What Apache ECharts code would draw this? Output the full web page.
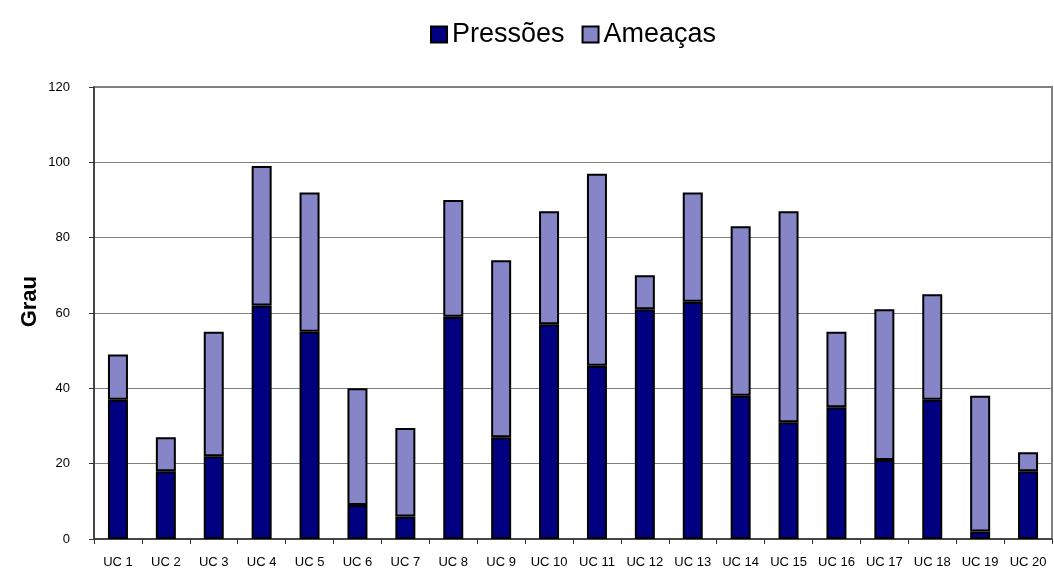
<!DOCTYPE html>
<html>
<head>
<meta charset="utf-8">
<script src="https://cdn.jsdelivr.net/npm/echarts@6/dist/echarts.min.js"></script>
<style>html,body{margin:0;padding:0;background:#fff;}#c{width:1054px;height:571px;}</style>
</head>
<body>
<div id="c"></div>
<script>
const categories = ['UC 1','UC 2','UC 3','UC 4','UC 5','UC 6','UC 7','UC 8','UC 9','UC 10','UC 11','UC 12','UC 13','UC 14','UC 15','UC 16','UC 17','UC 18','UC 19','UC 20'];
const pressoes = [37, 18, 22, 62, 55, 9, 6, 59, 27, 57, 46, 61, 63, 38, 31, 35, 21, 37, 2, 18];
const ameacas  = [12, 9, 33, 37, 37, 31, 23.5, 31, 47, 30, 51, 9, 29, 45, 56, 20, 40, 28, 36, 5];
const yTicks = [0, 20, 40, 60, 80, 100, 120];

const chart = echarts.init(document.getElementById('c'), null, {renderer: 'canvas'});
const font = 'Arial, "Liberation Sans", sans-serif';
chart.setOption({
  animation: false,
  backgroundColor: '#ffffff',
  legend: {
    top: 16,
    left: 425,
    icon: 'rect',
    itemWidth: 16,
    itemHeight: 16,
    itemGap: 17,
    textStyle: {fontFamily: font, fontSize: 27, color: '#000'},
    data: ['Pressões', 'Ameaças']
  },
  grid: {left: 94, right: 2, top: 87, bottom: 32, show: true, borderColor: '#808080', borderWidth: 2},
  xAxis: {
    type: 'category',
    data: categories,
    axisLine: {lineStyle: {color: '#333', width: 1.5}},
    axisTick: {show: true, length: 5, lineStyle: {color: '#333'}},
    axisLabel: {fontFamily: font, fontSize: 13, color: '#000', margin: 17, interval: 0}
  },
  yAxis: {
    type: 'value',
    min: yTicks[0],
    max: yTicks[yTicks.length - 1],
    interval: 20,
    axisLine: {show: true, lineStyle: {color: '#333', width: 1.5}},
    axisTick: {show: true, length: 5, lineStyle: {color: '#333'}},
    axisLabel: {fontFamily: font, fontSize: 13, color: '#000', margin: 24},
    splitLine: {lineStyle: {color: '#808080', width: 1}}
  },
  graphic: [{
    type: 'text',
    left: 19,
    top: 276,
    rotation: Math.PI / 2,
    style: {text: 'Grau', font: 'bold 22px Arial, "Liberation Sans", sans-serif', fill: '#000'}
  }],
  series: [
    {
      name: 'Pressões', type: 'bar', stack: 't', barWidth: 20, data: pressoes,
      itemStyle: {color: '#000080', borderColor: '#000', borderWidth: 2}
    },
    {
      name: 'Ameaças', type: 'bar', stack: 't', barWidth: 20, data: ameacas,
      itemStyle: {color: '#8585c8', borderColor: '#000', borderWidth: 2}
    }
  ]
});
</script>
</body>
</html>
